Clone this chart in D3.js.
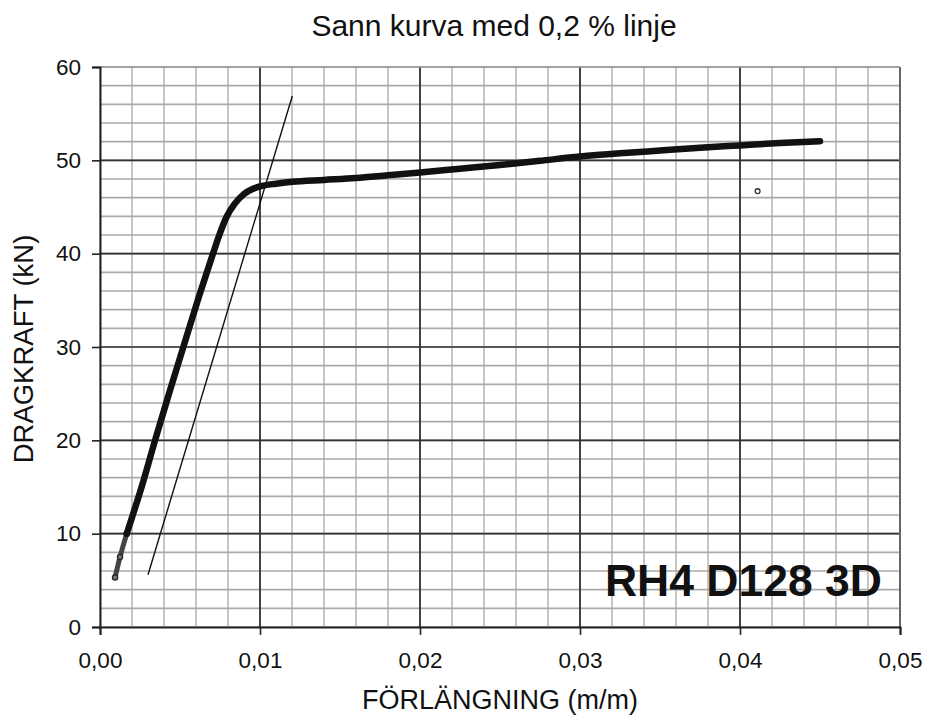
<!DOCTYPE html>
<html>
<head>
<meta charset="utf-8">
<script src="https://cdn.jsdelivr.net/npm/d3@7"></script>
<style>
  html, body { margin: 0; padding: 0; background: #fff; }
  svg { display: block; font-family: "Liberation Sans", Arial, sans-serif; }
</style>
</head>
<body>
<svg id="chart" width="925" height="720"></svg>
<script>
// Measured curve: elongation (m/m) and tensile force (kN)
const strain = [0.00094, 0.00125, 0.00167, 0.0026, 0.00344, 0.0044, 0.0053, 0.0062, 0.00706,
                0.0075, 0.0079, 0.0084, 0.0090, 0.0095, 0.0100, 0.0110, 0.0120, 0.0140, 0.0160,
                0.0180, 0.0200, 0.0225, 0.0250, 0.0275, 0.0300, 0.0325, 0.0350, 0.0375, 0.0400,
                0.0425, 0.0450];
const force  = [5.3, 7.5, 10, 15, 20, 25.5, 30.5, 35.5, 40,
                42.2, 43.9, 45.3, 46.4, 46.9, 47.2, 47.5, 47.7, 47.9, 48.1,
                48.4, 48.7, 49.1, 49.5, 49.95, 50.4, 50.75, 51.05, 51.35, 51.6,
                51.85, 52.05];
// 0,2 % offset line end points
const offsetStrain = [0.003, 0.01202];
const offsetForce  = [5.6, 56.9];
// Stray sample
const strayStrain = [0.0411];
const strayForce  = [46.7];

const xTicks = [0, 0.01, 0.02, 0.03, 0.04, 0.05];
const yTicks = [0, 10, 20, 30, 40, 50, 60];
const xMinor = d3.range(0, 0.0501, 0.002);
const yMinor = d3.range(0, 60.1, 2);

const title = "Sann kurva med 0,2 % linje";
const xTitle = "FÖRLÄNGNING (m/m)";
const yTitle = "DRAGKRAFT (kN)";
const specimen = "RH4 D128 3D";

const svg = d3.select("#chart");
const m = { left: 100, right: 25, top: 67, bottom: 93 };
const W = 925, H = 720;

const x = d3.scaleLinear().domain([0, 0.05]).range([m.left, W - m.right]);
const y = d3.scaleLinear().domain([0, 60]).range([H - m.bottom, m.top]);
const fmt = d3.format(".2f");
const comma = v => fmt(v).replace(".", ",");

// Minor grid
const g = svg.append("g");
g.selectAll("line.vx").data(xMinor).join("line")
  .attr("x1", d => x(d)).attr("x2", d => x(d))
  .attr("y1", y(0)).attr("y2", y(60))
  .attr("stroke", "#b8b8b8").attr("stroke-width", 1.6);
g.selectAll("line.hy").data(yMinor).join("line")
  .attr("x1", x(0)).attr("x2", x(0.05))
  .attr("y1", d => y(d)).attr("y2", d => y(d))
  .attr("stroke", "#aaa").attr("stroke-width", 1.6);

// Major grid
g.selectAll("line.mx").data(xTicks.slice(1, -1)).join("line")
  .attr("x1", d => x(d)).attr("x2", d => x(d))
  .attr("y1", y(0)).attr("y2", y(60))
  .attr("stroke", "#222").attr("stroke-width", 1.6);
g.selectAll("line.my").data(yTicks.slice(1, -1)).join("line")
  .attr("x1", x(0)).attr("x2", x(0.05))
  .attr("y1", d => y(d)).attr("y2", d => y(d))
  .attr("stroke", "#333").attr("stroke-width", 1.6);

// Frame
g.append("line").attr("x1", x(0.05)).attr("x2", x(0.05)).attr("y1", y(0)).attr("y2", y(60))
  .attr("stroke", "#666").attr("stroke-width", 2);
g.append("line").attr("x1", x(0)).attr("x2", x(0.05)).attr("y1", y(60)).attr("y2", y(60))
  .attr("stroke", "#999").attr("stroke-width", 1.6);

// Axes
const xAxis = svg.append("g").attr("transform", `translate(0,${y(0)})`)
  .call(d3.axisBottom(x).tickValues(xTicks).tickFormat(comma).tickSize(8).tickPadding(17));
const yAxis = svg.append("g").attr("transform", `translate(${x(0)},0)`)
  .call(d3.axisLeft(y).tickValues(yTicks).tickSize(8).tickPadding(11));
[xAxis, yAxis].forEach(a => {
  a.select(".domain").attr("stroke", "#222").attr("stroke-width", 2);
  a.selectAll(".tick line").attr("stroke", "#222").attr("stroke-width", 1.6);
  a.selectAll("text").attr("font-size", 22.5).attr("fill", "#111")
    .attr("font-family", "'Liberation Sans', Arial, sans-serif");
});
xAxis.selectAll("text").attr("dy", "0.72em");

// Offset line
svg.append("line")
  .attr("x1", x(offsetStrain[0])).attr("y1", y(offsetForce[0]))
  .attr("x2", x(offsetStrain[1])).attr("y2", y(offsetForce[1]))
  .attr("stroke", "#111").attr("stroke-width", 1.4);

// Curve: lighter start section of sample rings, heavy body
const pts = strain.map((s, i) => [s, force[i]]);
const line = d3.line().x(d => x(d[0])).y(d => y(d[1])).curve(d3.curveMonotoneX);
svg.append("path").datum(pts.slice(0, 3))
  .attr("d", line).attr("fill", "none").attr("stroke", "#444").attr("stroke-width", 5)
  .attr("stroke-linecap", "round");
svg.selectAll("circle.start").data(pts.slice(0, 3)).join("circle")
  .attr("cx", d => x(d[0])).attr("cy", d => y(d[1])).attr("r", 2.6)
  .attr("fill", "#777").attr("stroke", "#222").attr("stroke-width", 1.3);
svg.append("path").datum(pts.slice(2))
  .attr("d", line).attr("fill", "none").attr("stroke", "#111").attr("stroke-width", 6.5)
  .attr("stroke-linecap", "round").attr("stroke-linejoin", "round");

// Stray sample
svg.selectAll("circle.stray").data(strayStrain.map((s, i) => [s, strayForce[i]])).join("circle")
  .attr("cx", d => x(d[0])).attr("cy", d => y(d[1])).attr("r", 2.4)
  .attr("fill", "#fff").attr("stroke", "#333").attr("stroke-width", 1.3);

// Texts
svg.append("text").attr("x", 494).attr("y", 36).attr("text-anchor", "middle")
  .attr("font-size", 30).attr("fill", "#111").text(title);
svg.append("text").attr("x", 500).attr("y", 709).attr("text-anchor", "middle")
  .attr("font-size", 27).attr("fill", "#111").text(xTitle);
svg.append("text").attr("transform", `translate(33,${(y(0) + y(60)) / 2 + 2}) rotate(-90)`)
  .attr("text-anchor", "middle").attr("font-size", 27.5).attr("fill", "#111").text(yTitle);
svg.append("text").attr("x", 882).attr("y", 596).attr("text-anchor", "end")
  .attr("font-size", 44.5).attr("font-weight", "bold").attr("fill", "#111").text(specimen);
</script>
</body>
</html>
